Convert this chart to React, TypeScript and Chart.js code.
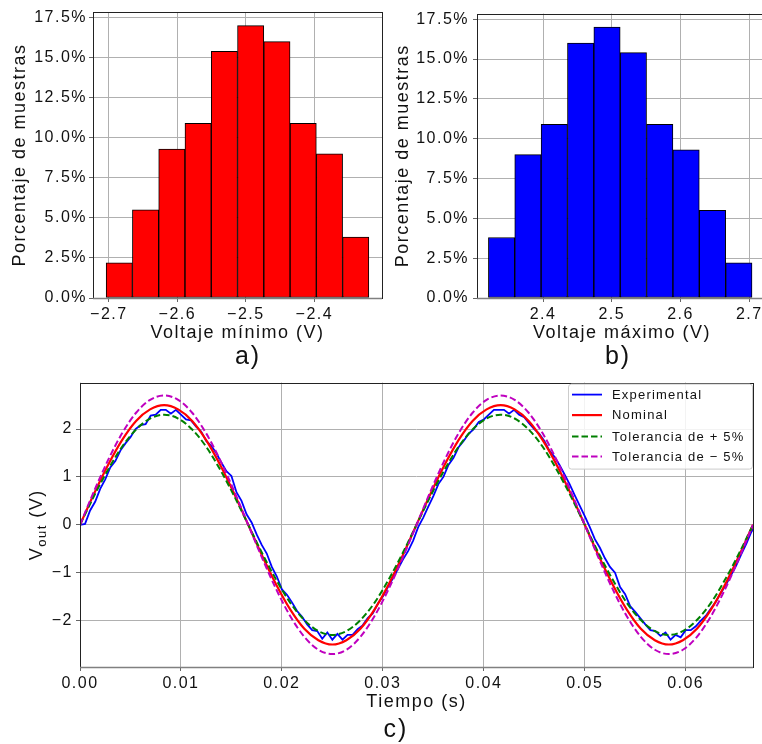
import React, { useEffect, useRef } from "react";
import { Chart, registerables } from "chart.js";

Chart.register(...registerables);

const FONT = "'Liberation Sans', Arial, sans-serif";
const TEXT = "#111";
const GRID = "#b0b0b0";

// ---------- a) minimum voltage histogram ----------
const MIN_BIN_EDGES = [-2.7039, -2.6656, -2.6272, -2.5889, -2.5505, -2.5122, -2.4738, -2.4355, -2.3971, -2.3588, -2.3205];
const MIN_PCT = [2.2, 5.5, 9.3, 10.9, 15.4, 17.0, 16.0, 10.9, 9.0, 3.8];
const MIN_XTICKS = [-2.7, -2.6, -2.5, -2.4];

// ---------- b) maximum voltage histogram ----------
const MAX_BIN_EDGES = [2.3205, 2.3588, 2.3971, 2.4355, 2.4738, 2.5122, 2.5505, 2.5889, 2.6272, 2.6656, 2.7039];
const MAX_PCT = [3.8, 9.0, 10.9, 16.0, 17.0, 15.4, 10.9, 9.3, 5.5, 2.2];
const MAX_XTICKS = [2.4, 2.5, 2.6, 2.7];

const PCT_TICKS = [0, 2.5, 5, 7.5, 10, 12.5, 15, 17.5];

// ---------- c) output signal ----------
const REF_DT = 1 / 720; // s, sampling of the reference curves
const NOMINAL = [0, 0.65, 1.25, 1.77, 2.17, 2.41, 2.5, 2.41, 2.17, 1.77, 1.25, 0.65, 0, -0.65, -1.25, -1.77, -2.17, -2.41, -2.5, -2.41, -2.17, -1.77, -1.25, -0.65, 0, 0.65, 1.25, 1.77, 2.17, 2.41, 2.5, 2.41, 2.17, 1.77, 1.25, 0.65, 0, -0.65, -1.25, -1.77, -2.17, -2.41, -2.5, -2.41, -2.17, -1.77, -1.25, -0.65, 0];
const TOL_PLUS = [0, 0.6, 1.15, 1.63, 1.99, 2.22, 2.3, 2.22, 1.99, 1.63, 1.15, 0.6, 0, -0.6, -1.15, -1.63, -1.99, -2.22, -2.3, -2.22, -1.99, -1.63, -1.15, -0.6, 0, 0.6, 1.15, 1.63, 1.99, 2.22, 2.3, 2.22, 1.99, 1.63, 1.15, 0.6, 0, -0.6, -1.15, -1.63, -1.99, -2.22, -2.3, -2.22, -1.99, -1.63, -1.15, -0.6, 0];
const TOL_MINUS = [0, 0.7, 1.35, 1.91, 2.34, 2.61, 2.7, 2.61, 2.34, 1.91, 1.35, 0.7, 0, -0.7, -1.35, -1.91, -2.34, -2.61, -2.7, -2.61, -2.34, -1.91, -1.35, -0.7, 0, 0.7, 1.35, 1.91, 2.34, 2.61, 2.7, 2.61, 2.34, 1.91, 1.35, 0.7, 0, -0.7, -1.35, -1.91, -2.34, -2.61, -2.7, -2.61, -2.34, -1.91, -1.35, -0.7, 0];

const EXP_DT = 0.0005; // s, sampling of the measured signal
const EXPERIMENTAL = [
  0, 0.02, 0.3, 0.48, 0.75, 0.95, 1.2, 1.33, 1.55, 1.7,
  1.83, 2.0, 2.08, 2.1, 2.28, 2.3, 2.4, 2.4, 2.32, 2.4,
  2.3, 2.2, 2.18, 2.05, 1.95, 1.75, 1.65, 1.5, 1.3, 1.12,
  1.02, 0.68, 0.5, 0.22, 0.05, -0.2, -0.42, -0.6, -0.88, -1.08,
  -1.35, -1.46, -1.62, -1.8, -1.92, -2.08, -2.2, -2.22, -2.38, -2.25,
  -2.4, -2.28, -2.4, -2.3, -2.3, -2.18, -2.1, -1.95, -1.85, -1.65,
  -1.5, -1.3, -1.12, -0.92, -0.72, -0.55, -0.33, -0.05, 0.15, 0.38,
  0.6, 0.85, 1.0, 1.25, 1.4, 1.62, 1.75, 1.9, 2.0, 2.15,
  2.2, 2.3, 2.4, 2.4, 2.4, 2.32, 2.4, 2.3, 2.25, 2.12,
  2.0, 1.9, 1.75, 1.55, 1.42, 1.25, 1.05, 0.85, 0.62, 0.4,
  0.18, -0.05, -0.3, -0.48, -0.7, -0.88, -1.0, -1.3, -1.45, -1.7,
  -1.82, -1.95, -2.08, -2.2, -2.22, -2.32, -2.25, -2.4, -2.3, -2.35,
  -2.2, -2.2, -2.12, -2.0, -1.9, -1.75, -1.6, -1.42, -1.25, -1.05,
  -0.85, -0.62, -0.4, -0.15, 0.02,
];
const TIME_TICKS = [0, 0.01, 0.02, 0.03, 0.04, 0.05, 0.06];
const VOLT_TICKS = [-2, -1, 0, 1, 2];
const LEGEND_LABELS = ["Experimental", "Nominal", "Tolerancia de + 5%", "Tolerancia de \u2212 5%"];

const minus = (s: string) => s.replace("-", "\u2212");

const spacingPlugin = {
  id: "spacing",
  beforeUpdate(chart: any) {
    (chart.ctx as any).letterSpacing = "1.5px";
  },
  beforeDraw(chart: any) {
    (chart.ctx as any).letterSpacing = "1.5px";
  },
};

const framePlugin = {
  id: "frame",
  afterDraw(chart: any) {
    const { ctx, chartArea: a } = chart;
    ctx.save();
    ctx.strokeStyle = "#222";
    ctx.lineWidth = 1;
    ctx.strokeRect(Math.round(a.left) + 0.5, Math.round(a.top) + 0.5, Math.round(a.right - a.left), Math.round(a.bottom - a.top));
    ctx.strokeStyle = "#808080";
    ctx.lineWidth = 1.6;
    ctx.beginPath();
    ctx.moveTo(a.left, a.bottom + 0.5);
    ctx.lineTo(a.right, a.bottom + 0.5);
    ctx.stroke();
    ctx.restore();
  },
};

type HistOpts = {
  edges: number[];
  pct: number[];
  xticks: number[];
  xmin: number;
  xmax: number;
  color: string;
  xTitle: string;
  padTop: number;
  padRight: number;
  yWidth: number;
  xHeight: number;
  yTitlePad: number;
  xTitlePad: number;
  yTickPad: number;
};

function histConfig(o: HistOpts): any {
  const data = o.pct.map((p, i) => ({ x: (o.edges[i] + o.edges[i + 1]) / 2, y: p }));
  return {
    type: "bar",
    data: {
      datasets: [
        {
          data,
          backgroundColor: o.color,
          borderColor: "#000",
          borderWidth: 1,
          borderSkipped: false,
          barPercentage: 1,
          categoryPercentage: 1,
          grouped: false,
        },
      ],
    },
    options: {
      animation: false,
      responsive: false,
      maintainAspectRatio: false,
      layout: { padding: { left: 0, top: o.padTop, right: o.padRight, bottom: 0 } },
      plugins: { legend: { display: false }, tooltip: { enabled: false } },
      scales: {
        x: {
          type: "linear",
          offset: false,
          min: o.xmin,
          max: o.xmax,
          z: 1,
          grid: { color: GRID, lineWidth: 1, offset: false, tickLength: 4, tickColor: "#666" },
          border: { display: false },
          ticks: {
            font: { family: FONT, size: 16 },
            color: TEXT,
            padding: 3,
            maxRotation: 0,
            autoSkip: false,
            callback: (v: number) => minus(v.toFixed(1)),
          },
          afterBuildTicks: (s: any) => {
            s.ticks = o.xticks.map((v) => ({ value: v }));
          },
          afterFit: (s: any) => {
            s.height = o.xHeight;
          },
          title: {
            display: true,
            text: o.xTitle,
            font: { family: FONT, size: 18 },
            color: TEXT,
            padding: { top: 0, bottom: o.xTitlePad },
          },
        },
        y: {
          type: "linear",
          min: 0,
          max: 17.85,
          z: 1,
          grid: { color: GRID, lineWidth: 1, tickLength: 4, tickColor: "#666" },
          border: { display: false },
          ticks: {
            font: { family: FONT, size: 16 },
            color: TEXT,
            padding: o.yTickPad,
            callback: (v: number) => v.toFixed(1) + "%",
          },
          afterBuildTicks: (s: any) => {
            s.ticks = PCT_TICKS.map((v) => ({ value: v }));
          },
          afterFit: (s: any) => {
            s.width = o.yWidth;
          },
          title: {
            display: true,
            text: "Porcentaje de muestras",
            font: { family: FONT, size: 18 },
            color: TEXT,
            padding: { top: o.yTitlePad, bottom: 0 },
          },
        },
      },
    },
    plugins: [spacingPlugin, framePlugin],
  };
}

const yTitlePlugin = {
  id: "vouttitle",
  afterDraw(chart: any) {
    const { ctx, chartArea: a } = chart;
    const cy = (a.top + a.bottom) / 2;
    ctx.save();
    (ctx as any).letterSpacing = "1.5px";
    ctx.translate(42, cy);
    ctx.rotate(-Math.PI / 2);
    ctx.fillStyle = TEXT;
    ctx.textBaseline = "alphabetic";
    ctx.textAlign = "left";
    const big = `18px ${FONT}`;
    const small = `13px ${FONT}`;
    ctx.font = big;
    const w1 = ctx.measureText("V").width;
    const w3 = ctx.measureText(" (V)").width;
    ctx.font = small;
    const w2 = ctx.measureText("out").width;
    let x = -(w1 + w2 + w3) / 2;
    ctx.font = big;
    ctx.fillText("V", x, 0);
    x += w1;
    ctx.font = small;
    ctx.fillText("out", x, 4);
    x += w2;
    ctx.font = big;
    ctx.fillText(" (V)", x, 0);
    ctx.restore();
  },
};

const legendPlugin = {
  id: "customLegend",
  afterDraw(chart: any) {
    const { ctx, chartArea: a } = chart;
    const x0 = a.right - 185;
    const y0 = a.top + 1;
    const w = 184;
    const h = 85;
    ctx.save();
    ctx.fillStyle = "rgba(255,255,255,0.85)";
    ctx.strokeStyle = "#cccccc";
    ctx.lineWidth = 1;
    ctx.beginPath();
    (ctx as any).roundRect(x0 + 0.5, y0 + 0.5, w, h, 3);
    ctx.fill();
    ctx.stroke();
    const rows = [12, 32.5, 54, 74];
    const ds = chart.data.datasets;
    ds.forEach((d: any, i: number) => {
      const y = a.top + rows[i];
      ctx.strokeStyle = d.borderColor;
      ctx.lineWidth = d.borderWidth;
      ctx.setLineDash(d.borderDash || []);
      ctx.beginPath();
      ctx.moveTo(x0 + 4, y);
      ctx.lineTo(x0 + 34, y);
      ctx.stroke();
      ctx.setLineDash([]);
      (ctx as any).letterSpacing = "1.2px";
      ctx.font = `13px ${FONT}`;
      ctx.fillStyle = TEXT;
      ctx.textBaseline = "middle";
      ctx.textAlign = "left";
      ctx.fillText(d.label, x0 + 44, y + 0.5);
    });
    ctx.restore();
  },
};

function signalConfig(): any {
  const ref = (arr: number[]) => arr.map((v, i) => ({ x: i * REF_DT, y: v }));
  const exp = EXPERIMENTAL.map((v, i) => ({ x: i * EXP_DT, y: v }));
  return {
    type: "line",
    data: {
      datasets: [
        { label: LEGEND_LABELS[0], data: exp, borderColor: "#0000ff", borderWidth: 1.8, pointRadius: 0, tension: 0, order: 4 },
        { label: LEGEND_LABELS[1], data: ref(NOMINAL), borderColor: "#ff0000", borderWidth: 2.2, pointRadius: 0, cubicInterpolationMode: "monotone", order: 3 },
        { label: LEGEND_LABELS[2], data: ref(TOL_PLUS), borderColor: "#008000", borderWidth: 2, borderDash: [6.5, 3], pointRadius: 0, cubicInterpolationMode: "monotone", order: 2 },
        { label: LEGEND_LABELS[3], data: ref(TOL_MINUS), borderColor: "#bf00bf", borderWidth: 2, borderDash: [6.5, 3], pointRadius: 0, cubicInterpolationMode: "monotone", order: 1 },
      ],
    },
    options: {
      animation: false,
      responsive: false,
      maintainAspectRatio: false,
      layout: { padding: { left: 0, top: 10, right: 9, bottom: 0 } },
      plugins: { legend: { display: false }, tooltip: { enabled: false } },
      scales: {
        x: {
          type: "linear",
          min: 0,
          max: 2 / 30,
          grid: { color: GRID, lineWidth: 1, tickLength: 4, tickColor: "#666" },
          border: { display: false },
          ticks: {
            font: { family: FONT, size: 16 },
            color: TEXT,
            padding: 3,
            maxRotation: 0,
            autoSkip: false,
            callback: (v: number) => v.toFixed(2),
          },
          afterBuildTicks: (s: any) => {
            s.ticks = TIME_TICKS.map((v) => ({ value: v }));
          },
          afterFit: (s: any) => {
            s.height = 77;
          },
          title: {
            display: true,
            text: "Tiempo (s)",
            font: { family: FONT, size: 18 },
            color: TEXT,
            padding: { top: 0, bottom: 31 },
          },
        },
        y: {
          type: "linear",
          min: -2.97,
          max: 2.97,
          grid: { color: GRID, lineWidth: 1, tickLength: 4, tickColor: "#666" },
          border: { display: false },
          ticks: {
            font: { family: FONT, size: 16 },
            color: TEXT,
            padding: 3,
            callback: (v: number) => minus(String(v)),
          },
          afterBuildTicks: (s: any) => {
            s.ticks = VOLT_TICKS.map((v) => ({ value: v }));
          },
          afterFit: (s: any) => {
            s.width = 80;
          },
        },
      },
    },
    plugins: [spacingPlugin, framePlugin, yTitlePlugin, legendPlugin],
  };
}

function ChartBox(props: { make: () => any; left: number; top: number; width: number; height: number }) {
  const ref = useRef<HTMLCanvasElement>(null);
  useEffect(() => {
    const chart = new Chart(ref.current as HTMLCanvasElement, props.make());
    return () => chart.destroy();
  }, []);
  return (
    <canvas
      ref={ref}
      width={props.width}
      height={props.height}
      style={{ position: "absolute", left: props.left, top: props.top, width: props.width, height: props.height }}
    />
  );
}

function PanelLabel(props: { text: string; cx: number; cy: number }) {
  return (
    <div
      style={{
        position: "absolute",
        left: props.cx - 40,
        top: props.cy - 16,
        width: 80,
        height: 32,
        lineHeight: "32px",
        textAlign: "center",
        fontFamily: FONT,
        fontSize: 25,
        letterSpacing: "2px",
        color: TEXT,
      }}
    >
      {props.text}
    </div>
  );
}

const makeMin = () =>
  histConfig({
    edges: MIN_BIN_EDGES,
    pct: MIN_PCT,
    xticks: MIN_XTICKS,
    xmin: -2.7231,
    xmax: -2.3013,
    color: "#ff0000",
    xTitle: "Voltaje m\u00ednimo (V)",
    padTop: 12,
    padRight: 8,
    yWidth: 93,
    xHeight: 72,
    yTitlePad: 9,
    xTitlePad: 26,
    yTickPad: 2,
  });

const makeMax = () =>
  histConfig({
    edges: MAX_BIN_EDGES,
    pct: MAX_PCT,
    xticks: MAX_XTICKS,
    xmin: 2.3039,
    xmax: 2.7257,
    color: "#0000ff",
    xTitle: "Voltaje m\u00e1ximo (V)",
    padTop: 12,
    padRight: 13,
    yWidth: 97,
    xHeight: 72,
    yTitlePad: 12,
    xTitlePad: 26,
    yTickPad: 4,
  });

export default function App() {
  return (
    <div style={{ position: "fixed", left: 0, top: 0, width: 762, height: 744, overflow: "hidden", background: "#fff" }}>
      <ChartBox make={makeMin} left={0} top={0} width={390} height={370} />
      <ChartBox make={makeMax} left={380} top={0} width={400} height={370} />
      <ChartBox make={signalConfig} left={0} top={370} width={762} height={374} />
      <PanelLabel text="a)" cx={248} cy={355} />
      <PanelLabel text="b)" cx={618} cy={355} />
      <PanelLabel text="c)" cx={396} cy={728} />
    </div>
  );
}
